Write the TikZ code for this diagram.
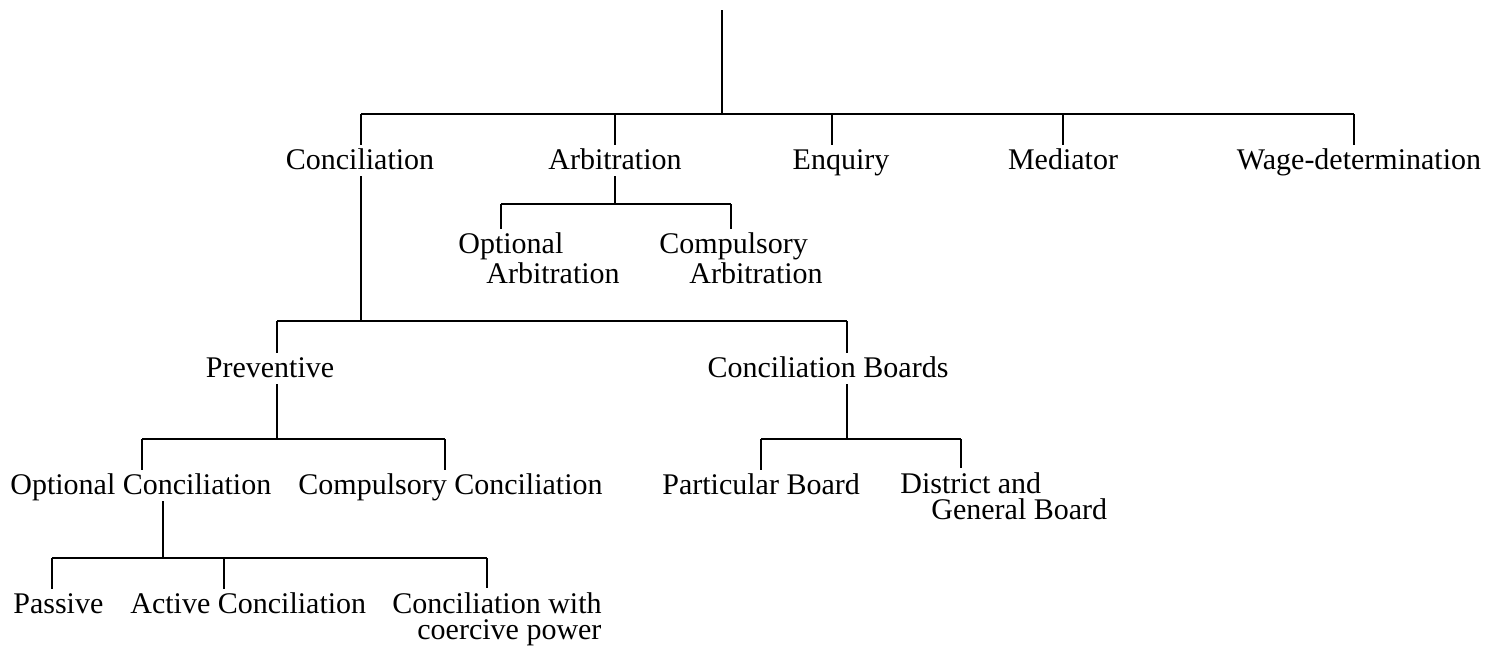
\documentclass[tikz,border=0pt]{standalone}
\usepackage{fontspec}
\setmainfont{Liberation Serif}
\begin{document}
\begin{tikzpicture}[x=0.5pt,y=-0.5pt,
  lbl/.style={inner xsep=0pt, inner ysep=2pt, text depth=1.5pt,
    font=\fontsize{15}{13}\selectfont},
  one/.style={lbl, text height=10pt},
  two/.style={lbl, align=left, anchor=base west},
  conn/.style={line width=1.1pt, line cap=butt}]
\useasboundingbox (0,0) rectangle (1488,650);
% level 1
\node[one,anchor=base] (conc) at (360,169) {Conciliation};
\node[one,anchor=base] (arb) at (615,169) {Arbitration};
\node[one,anchor=base] (enq) at (841,169) {Enquiry};
\node[one,anchor=base] (med) at (1063,169) {Mediator};
\node[one,anchor=base] (wage) at (1359,169) {Wage-determination};
% arbitration children
\node[two] (oarb) at (458,283) {Optional\\\hspace*{14pt}Arbitration};
\node[two] (carb) at (659,283) {Compulsory\\\hspace*{15pt}Arbitration};
% level 2
\node[one,anchor=base] (prev) at (270,377) {Preventive};
\node[one,anchor=base] (cb) at (828,377) {Conciliation Boards};
% level 3
\node[one,anchor=base west] (oc) at (10,494) {Optional Conciliation};
\node[one,anchor=base west] (cc) at (298,494) {Compulsory Conciliation};
\node[one,anchor=base west] (pb) at (662,494) {Particular Board};
\node[two] (dg) at (900,519) {District and\\\hspace*{15.5pt}General Board};
% level 4
\node[one,anchor=base west] (pas) at (13,613) {Passive};
\node[one,anchor=base west] (act) at (130,613) {Active Conciliation};
\node[two] (cwc) at (392,639) {Conciliation with\\\hspace*{12.5pt}coercive power};
% connectors: top level
\coordinate (top) at (722,10);
\coordinate (j0) at (722,114);
\coordinate (b1c) at (361,114);
\coordinate (b1a) at (615,114);
\coordinate (b1e) at (832,114);
\coordinate (b1m) at (1063,114);
\coordinate (b1w) at (1354,114);
\draw[conn] (top) -- (j0);
\draw[conn] (b1c) -- (b1w);
\draw[conn] (b1c) -- (b1c |- conc.north);
\draw[conn] (b1a) -- (b1a |- arb.north);
\draw[conn] (b1e) -- (b1e |- enq.north);
\draw[conn] (b1m) -- (b1m |- med.north);
\draw[conn] (b1w) -- (b1w |- wage.north);
% arbitration
\coordinate (ja) at (615,204);
\coordinate (b2o) at (501,204);
\coordinate (b2c) at (731,204);
\draw[conn] (ja |- arb.south) -- (ja);
\draw[conn] (b2o) -- (b2c);
\draw[conn] (b2o) -- (b2o |- oarb.north);
\draw[conn] (b2c) -- (b2c |- carb.north);
% conciliation
\coordinate (jc) at (361,321);
\coordinate (b3p) at (277,321);
\coordinate (b3b) at (847,321);
\draw[conn] (jc |- conc.south) -- (jc);
\draw[conn] (b3p) -- (b3b);
\draw[conn] (b3p) -- (b3p |- prev.north);
\draw[conn] (b3b) -- (b3b |- cb.north);
% preventive
\coordinate (jp) at (277,439);
\coordinate (b4o) at (142,439);
\coordinate (b4c) at (445,439);
\draw[conn] (jp |- prev.south) -- (jp);
\draw[conn] (b4o) -- (b4c);
\draw[conn] (b4o) -- (b4o |- oc.north);
\draw[conn] (b4c) -- (b4c |- cc.north);
% conciliation boards
\coordinate (jb) at (847,439);
\coordinate (b5p) at (761,439);
\coordinate (b5d) at (961,439);
\draw[conn] (jb |- cb.south) -- (jb);
\draw[conn] (b5p) -- (b5d);
\draw[conn] (b5p) -- (b5p |- pb.north);
\draw[conn] (b5d) -- (b5d |- dg.north);
% optional conciliation
\coordinate (jo) at (163,558);
\coordinate (b6p) at (52,558);
\coordinate (b6a) at (224,558);
\coordinate (b6c) at (487,558);
\draw[conn] (jo |- oc.south) -- (jo);
\draw[conn] (b6p) -- (b6c);
\draw[conn] (b6p) -- (b6p |- pas.north);
\draw[conn] (b6a) -- (b6a |- act.north);
\draw[conn] (b6c) -- (b6c |- cwc.north);
\end{tikzpicture}
\end{document}
